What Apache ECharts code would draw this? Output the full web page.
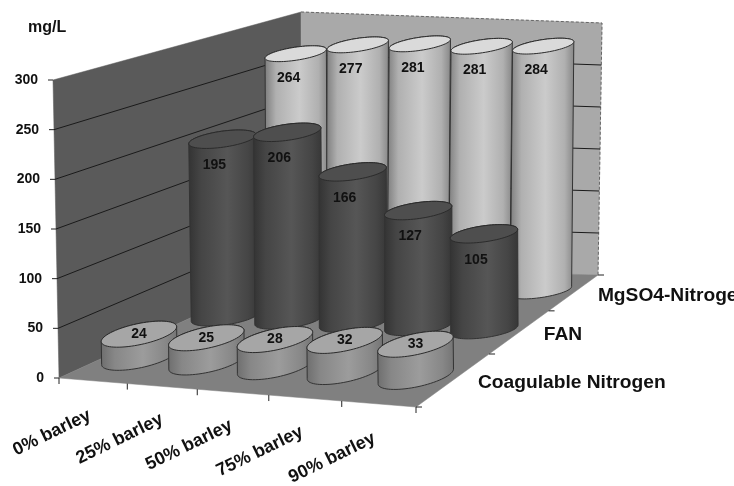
<!DOCTYPE html>
<html>
<head>
<meta charset="utf-8">
<style>html,body{margin:0;padding:0;background:#fff}#chart{width:734px;height:486px}</style>
<script src="https://cdn.jsdelivr.net/npm/echarts@6/dist/echarts.min.js"></script>
</head>
<body>
<div id="chart"></div>
<script>
// Nitrogen fractions of wort by barley share
const categories = ['0% barley', '25% barley', '50% barley', '75% barley', '90% barley'];
const rowNames = ['Coagulable Nitrogen', 'FAN', 'MgSO4-Nitrogen'];
const coagulable = [24, 25, 28, 32, 33];
const fan = [195, 206, 166, 127, 105];
const mgso4 = [264, 277, 281, 281, 284];
const valueTicks = [0, 50, 100, 150, 200, 250, 300];

// Box corners on screen: front-left, front-right, back-right, back-left
const FLOOR = [[59, 378], [416, 407], [598, 275], [302, 267]];
const CEILING = [[53, 80], [411, 102], [602, 23], [301, 12]];
const FONT = '"Liberation Sans", Arial, sans-serif';

// Maps the unit square onto a screen quadrilateral
function quadMap(q) {
  const [[x0, y0], [x1, y1], [x2, y2], [x3, y3]] = q;
  const dx1 = x1 - x2, dx2 = x3 - x2, sx = x0 - x1 + x2 - x3;
  const dy1 = y1 - y2, dy2 = y3 - y2, sy = y0 - y1 + y2 - y3;
  const den = dx1 * dy2 - dx2 * dy1;
  const g = (sx * dy2 - dx2 * sy) / den, h = (dx1 * sy - sx * dy1) / den;
  const a = x1 - x0 + g * x1, b = x3 - x0 + h * x3;
  const d = y1 - y0 + g * y1, e = y3 - y0 + h * y3;
  return (u, v) => {
    const w = g * u + h * v + 1;
    return [(a * u + b * v + x0) / w, (d * u + e * v + y0) / w];
  };
}
const floorAt = quadMap(FLOOR), ceilingAt = quadMap(CEILING);

// u: along the categories, v: into the depth, t: fraction of the value axis.
// The u term evens out the category spacing along the front edge.
function project(u, v, t) {
  const s = u + 0.1 * u * (1 - u);
  const p = floorAt(s, v), q = ceilingAt(s, v);
  return [p[0] + (q[0] - p[0]) * t, p[1] + (q[1] - p[1]) * t];
}

// Fraction of the value axis, read through the axis scale
function axisFraction(api, value) {
  const y0 = api.coord([0, 0])[1], yMax = api.coord([0, 300])[1];
  return (y0 - api.coord([0, value])[1]) / (y0 - yMax);
}

function convexHull(points) {
  const pts = points.slice().sort((p, q) => p[0] - q[0] || p[1] - q[1]);
  const cross = (o, a, b) => (a[0] - o[0]) * (b[1] - o[1]) - (a[1] - o[1]) * (b[0] - o[0]);
  const half = list => {
    const out = [];
    for (const p of list) {
      while (out.length > 1 && cross(out[out.length - 2], out[out.length - 1], p) <= 0) out.pop();
      out.push(p);
    }
    out.pop();
    return out;
  };
  return half(pts).concat(half(pts.reverse()));
}

function sideGradient(edgeL, mid, edgeR) {
  return {
    type: 'linear', x: 0, y: 0, x2: 1, y2: 0,
    colorStops: [
      { offset: 0, color: edgeL }, { offset: 0.18, color: mid[0] },
      { offset: 0.55, color: mid[1] }, { offset: 0.85, color: mid[0] },
      { offset: 1, color: edgeR }
    ]
  };
}

// Per-row look: side shading, cap colour, label offset, cap ellipse (semi-axes and tilt)
const rowStyles = [
  { side: sideGradient('#6e6e6e', ['#878787', '#9c9c9c'], '#747474'), top: '#a6a6a6', label: [0, 0], major: 38.5, minor: 10.5, tilt: -0.21 },
  { side: sideGradient('#333333', ['#454545', '#565656'], '#363636'), top: '#4e4e4e', label: [-8, 26], major: 34, minor: 8, tilt: -0.14 },
  { side: sideGradient('#7c7c7c', ['#b0b0b0', '#cbcbcb'], '#868686'), top: '#dadada', label: [-7, 24], major: 31, minor: 6.5, tilt: -0.15 }
];

function cylinderSeries(row, values) {
  const style = rowStyles[row];
  const cos = Math.cos(style.tilt), sin = Math.sin(style.tilt);
  return {
    type: 'custom',
    name: rowNames[row],
    z: 3 + (2 - row),
    data: values.map((v, i) => [i, v]),
    renderItem(params, api) {
      const i = api.value(0), value = api.value(1);
      const t = axisFraction(api, value);
      const cu = (i + 0.5) / categories.length - 0.008, cv = (row + 0.5) / rowNames.length;
      const ring = c => {
        const pts = [];
        for (let k = 0; k < 72; k++) {
          const a = k / 72 * Math.PI * 2;
          const mx = style.major * Math.cos(a), my = style.minor * Math.sin(a);
          pts.push([c[0] + mx * cos - my * sin, c[1] + mx * sin + my * cos]);
        }
        return pts;
      };
      const c = project(cu, cv, t);
      const topRing = ring(c), baseRing = ring(project(cu, cv, 0));
      return {
        type: 'group',
        children: [
          { type: 'polygon', shape: { points: convexHull(topRing.concat(baseRing)) },
            style: { fill: style.side, stroke: '#333', lineWidth: 1 } },
          { type: 'polygon', shape: { points: topRing },
            style: { fill: style.top, stroke: '#2b2b2b', lineWidth: 1 } },
          { type: 'text', style: {
              text: String(value), x: c[0] + style.label[0], y: c[1] + style.label[1],
              align: 'center', verticalAlign: 'middle',
              font: 'bold 14px ' + FONT, fill: '#111' } }
        ]
      };
    }
  };
}

// Walls and floor of the chart box
const wallSeries = {
  type: 'custom', z: 1, silent: true, data: [[0, 300]],
  renderItem() {
    const poly = (pts, fill) => ({ type: 'polygon', shape: { points: pts }, style: { fill, stroke: fill, lineWidth: 0.5 } });
    return {
      type: 'group',
      children: [
        poly([FLOOR[0], FLOOR[3], CEILING[3], CEILING[0]], '#5a5a5a'),
        poly([FLOOR[3], FLOOR[2], CEILING[2], CEILING[3]], '#a9a9a9'),
        poly(FLOOR, '#808080'),
        { type: 'polyline', shape: { points: [CEILING[3], CEILING[2], FLOOR[2]] },
          style: { fill: null, stroke: '#666', lineWidth: 1, lineDash: [3, 2] } }
      ]
    };
  }
};

// Gridlines on both walls and the tick at the left edge
const gridSeries = {
  type: 'custom', z: 2, silent: true,
  data: valueTicks.map(v => [0, v]),
  renderItem(params, api) {
    const value = api.value(1), t = axisFraction(api, value);
    const a = project(0, 0, t), b = project(0, 1, t), c = project(1, 1, t);
    const children = [{ type: 'line', shape: { x1: a[0] - 5, y1: a[1], x2: a[0], y2: a[1] },
      style: { stroke: '#222', lineWidth: 1 } }];
    if (value > 0 && value < 300) {
      children.push({ type: 'polyline', shape: { points: [a, b, c] },
        style: { fill: null, stroke: '#1a1a1a', lineWidth: 1 } });
    }
    return { type: 'group', children };
  }
};

// Ticks and labels along the two bottom edges
const edgeLabelSeries = {
  type: 'custom', z: 8, silent: true, data: [[0, 0]],
  renderItem() {
    const children = [];
    const tick = (p, dx, dy) => children.push({ type: 'line',
      shape: { x1: p[0], y1: p[1], x2: p[0] + dx, y2: p[1] + dy }, style: { stroke: '#222', lineWidth: 1 } });
    for (let i = 0; i <= categories.length; i++) tick(project(i / categories.length, 0, 0), 0, 6);
    for (let j = 0; j <= rowNames.length; j++) tick(project(1, j / rowNames.length, 0), 6, 0);
    categories.forEach((name, i) => {
      const p = project((i + 0.5) / categories.length, 0, 0);
      children.push({ type: 'text', x: p[0] - 41 - 1.4 * i, y: p[1] + 52 + 0.5 * i, rotation: 26 * Math.PI / 180,
        style: { text: name, x: 0, y: 0, align: 'center', verticalAlign: 'middle',
          font: 'bold 18px ' + FONT, fill: '#111' } });
    });
    rowNames.forEach((name, j) => {
      const p = project(1, (j + 0.5) / rowNames.length, 0);
      children.push({ type: 'text', style: { text: name, x: p[0] + 23.5, y: p[1] + 3.5,
        align: 'left', verticalAlign: 'middle', font: 'bold 19.2px ' + FONT, fill: '#111' } });
    });
    return { type: 'group', children };
  }
};

const tickRich = {};
valueTicks.forEach(v => {
  tickRich['t' + v] = { padding: [0, 6 * v / 300, 0, 0], fontFamily: FONT, fontSize: 14, fontWeight: 'bold', color: '#111' };
});

const chart = echarts.init(document.getElementById('chart'), null, { renderer: 'canvas' });
chart.setOption({
  animation: false,
  backgroundColor: '#ffffff',
  title: { text: 'mg/L', left: 28, top: 20, padding: 0,
    textStyle: { fontFamily: FONT, fontSize: 16, fontWeight: 'bold', color: '#111' } },
  grid: { left: 59, right: 100, top: 80, bottom: 108 },
  xAxis: { type: 'category', data: categories, show: false },
  yAxis: {
    type: 'value', min: 0, max: 300, interval: 50,
    axisLine: { show: false }, axisTick: { show: false }, splitLine: { show: false },
    axisLabel: { margin: 15, formatter: v => '{t' + v + '|' + v + '}', rich: tickRich }
  },
  series: [wallSeries, gridSeries,
    cylinderSeries(2, mgso4), cylinderSeries(1, fan), cylinderSeries(0, coagulable),
    edgeLabelSeries]
});
</script>
</body>
</html>
